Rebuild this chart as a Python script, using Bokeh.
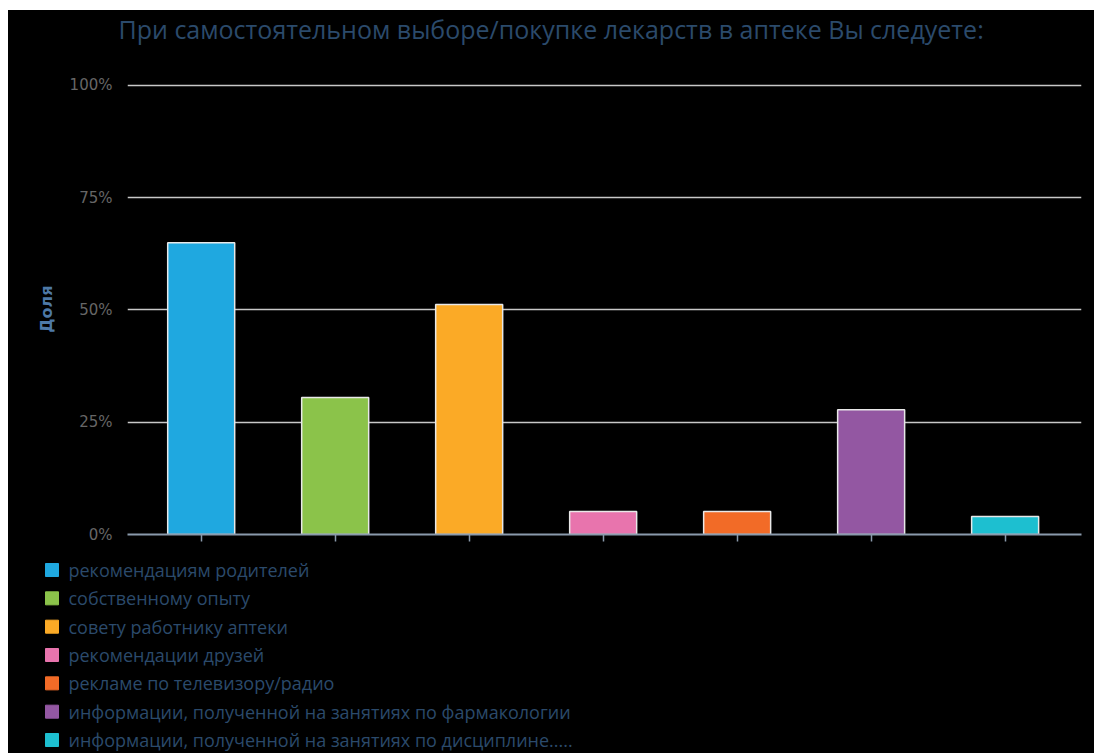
from bokeh.plotting import figure
from bokeh.models import (Range1d, FixedTicker, PrintfTickFormatter, ColumnDataSource, Spacer)
from bokeh.layouts import column, row
from bokeh.embed import file_html
from bokeh.resources import INLINE
from bokeh.core.properties import value

title_text = "При самостоятельном выборе/покупке лекарств в аптеке Вы следуете:"
categories = [
    "рекомендациям родителей",
    "собственному опыту",
    "совету работнику аптеки",
    "рекомендации друзей",
    "рекламе по телевизору/радио",
    "информации, полученной на занятиях по фармакологии",
    "информации, полученной на занятиях по дисциплине.....",
]
shares = [65, 30.5, 51.2, 5.1, 5.1, 27.8, 4.0]
colors = ["#1fa8e0", "#8bc34a", "#fbaa26", "#e874ad", "#f26b27", "#9357a2", "#1dbfd0"]
y_ticks = [0, 25, 50, 75, 100]
y_label = "Доля"

TEXT_FONT = "Open Sans"
TITLE_COLOR = "#2b4a6b"
W = 1086
BLACK = {"background-color": "#000000"}


def blank(fig):
    fig.background_fill_alpha = 0
    fig.border_fill_color = "#000000"
    fig.outline_line_color = None
    fig.styles = BLACK


# ---------------- title strip ----------------
TITLE_H = 63
pt = figure(width=W, height=TITLE_H, output_backend="svg", toolbar_location=None,
            x_range=Range1d(0, W), y_range=Range1d(TITLE_H, 0),
            min_border=0, min_border_left=0, min_border_right=0,
            min_border_top=0, min_border_bottom=0)
blank(pt)
pt.axis.visible = False
pt.grid.visible = False
pt.text(x=[110], y=[18.5], text=[title_text], text_font=value(TEXT_FONT),
        text_font_size="25px", text_color=TITLE_COLOR, text_baseline="middle",
        text_align="left")

# ---------------- main chart ----------------
MAIN_H = 482
p = figure(width=W, height=MAIN_H, output_backend="svg", toolbar_location=None,
           x_range=Range1d(-0.55, 6.57), y_range=Range1d(0, 100.445),
           min_border_left=119, min_border_right=13, min_border_top=10, min_border_bottom=21)
blank(p)

xs = list(range(len(categories)))
src = ColumnDataSource(dict(x=xs, top=shares, color=colors, label=categories))
p.vbar(x="x", top="top", width=0.5, bottom=0, source=src,
       fill_color="color", line_color="#e8e8e8", line_width=1.5)

p.xgrid.visible = False
p.ygrid.grid_line_color = "#c8c8c8"
p.ygrid.grid_line_width = 1.5
p.ygrid.ticker = FixedTicker(ticks=y_ticks)

p.yaxis.ticker = FixedTicker(ticks=y_ticks)
p.yaxis.formatter = PrintfTickFormatter(format="%d%%")
p.yaxis.axis_line_color = None
p.yaxis.major_tick_line_color = None
p.yaxis.minor_tick_line_color = None
p.yaxis.major_label_text_color = "#666666"
p.yaxis.major_label_text_font = "DejaVu Sans"
p.yaxis.major_label_text_font_size = "15px"
p.yaxis.major_label_standoff = 9
p.yaxis.axis_label = y_label
p.yaxis.axis_label_text_font = "DejaVu Sans"
p.yaxis.axis_label_text_font_style = "bold"
p.yaxis.axis_label_text_font_size = "16px"
p.yaxis.axis_label_text_color = "#4e79a7"
p.yaxis.axis_label_standoff = 11

p.xaxis.ticker = FixedTicker(ticks=xs)
p.xaxis.major_label_overrides = {i: "" for i in xs}
p.xaxis.axis_line_color = "#8a9aac"
p.xaxis.axis_line_width = 2
p.xaxis.major_tick_line_color = "#8a9aac"
p.xaxis.major_tick_line_width = 1.5
p.xaxis.major_tick_in = 0
p.xaxis.major_tick_out = 7
p.xaxis.minor_tick_line_color = None

# ---------------- legend panel ----------------
LEG_H = 753 - 10 - TITLE_H - MAIN_H
MARK_X = 43.5
TEXT_X = 60
p2 = figure(width=W, height=LEG_H, output_backend="svg", toolbar_location=None,
            x_range=Range1d(0, W), y_range=Range1d(6.476, -0.512),
            min_border=0, min_border_left=0, min_border_right=0,
            min_border_top=0, min_border_bottom=0)
blank(p2)
p2.axis.visible = False
p2.grid.visible = False

lsrc = ColumnDataSource(dict(y=xs, label=categories, color=colors,
                             mx=[MARK_X] * len(xs), tx=[TEXT_X] * len(xs)))
p2.scatter(x="mx", y="y", source=lsrc, marker="square", size=13,
           fill_color="color", line_color="color", line_width=1, line_join="round")
p2.text(x="tx", y="y", text="label", source=lsrc, text_font=value(TEXT_FONT),
        text_font_size="18px", text_color=TITLE_COLOR, text_baseline="middle",
        text_align="left")

root0 = column(Spacer(height=10), row(Spacer(width=8), pt))
root1 = row(Spacer(width=8), p)
root2 = row(Spacer(width=8), p2)
open("out.html", "w").write(file_html([root0, root1, root2], INLINE))
